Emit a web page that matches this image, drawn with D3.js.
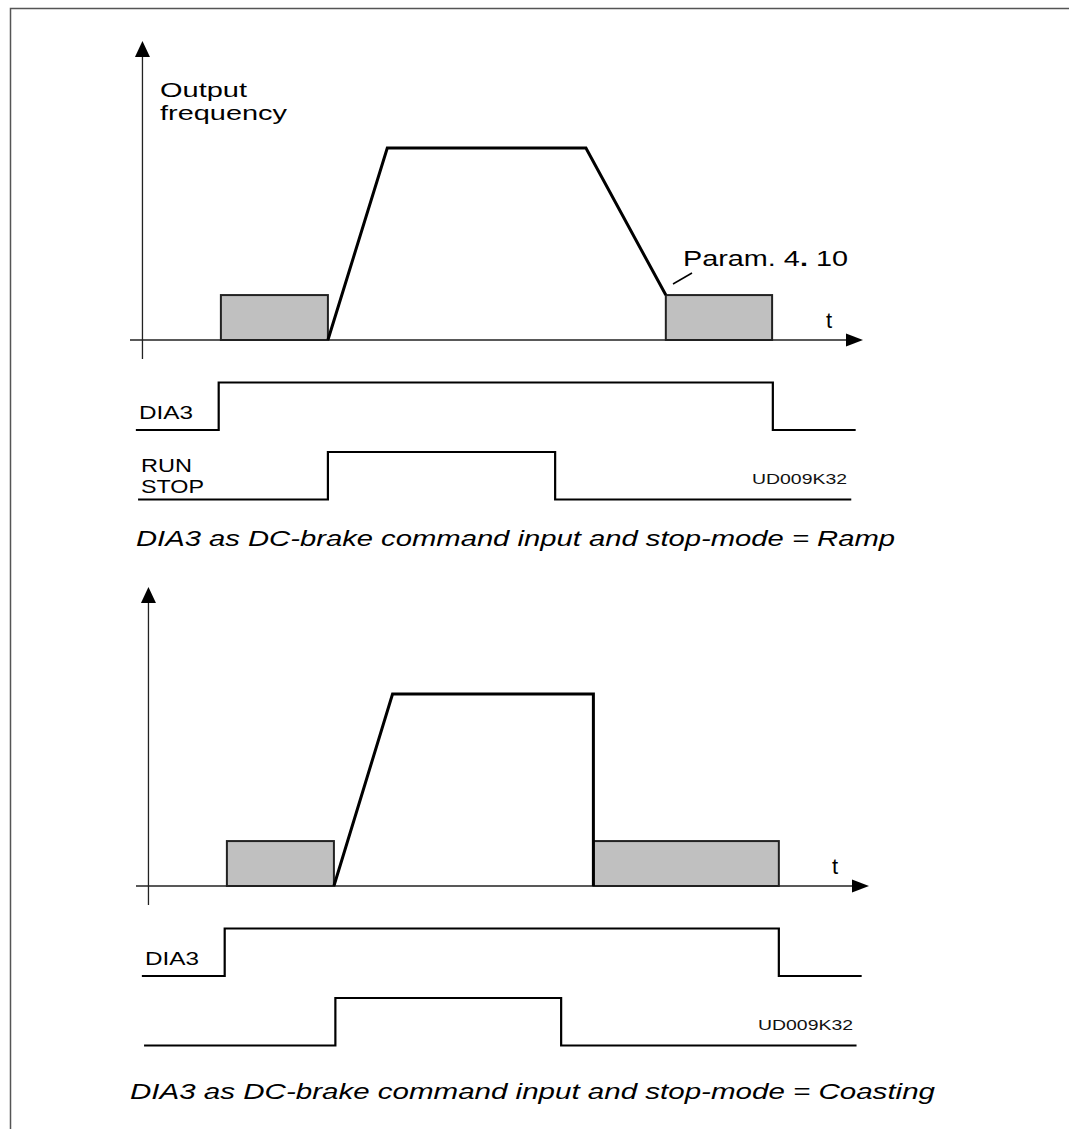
<!DOCTYPE html>
<html>
<head>
<meta charset="utf-8">
<script src="https://cdn.jsdelivr.net/npm/d3@7"></script>
<style>
  body { margin: 0; background: #fff; }
  svg { display: block; font-family: "Liberation Sans", Arial, sans-serif; }
</style>
</head>
<body>
<div id="chart"></div>
<script>
// time axis runs 0..100, frequency 0..100 (% of max), digital signals 0/1
const brakeLevel = 23.4;

// ramp stop
const rampFreq = [[27.0, 0], [35.1, 100], [62.2, 100], [73.1, brakeLevel]];
const rampBrake = [[12.4, 27.0], [73.1, 87.6]];
const rampDia3 = [[0.8, 0], [12.1, 1], [87.7, 0], [99.0, 0]];
const rampRun = [[1.1, 0], [27.0, 1], [58.0, 0], [98.4, 0]];

// coasting stop
const coastFreq = [[27.0, 0], [35.0, 100], [62.4, 100], [62.4, 0]];
const coastBrake = [[12.4, 27.0], [62.4, 87.7]];
const coastDia3 = [[0.8, 0], [12.1, 1], [87.7, 0], [99.0, 0]];
const coastRun = [[1.1, 0], [27.2, 1], [58.0, 0], [98.3, 0]];

const captions = [
  'DIA3 as DC-brake command input and stop-mode = Ramp',
  'DIA3 as DC-brake command input and stop-mode = Coasting'
];

const svg = d3.select('#chart').append('svg')
  .attr('width', 1069)
  .attr('height', 1129);

// outer frame
svg.append('rect')
  .attr('x', 10.5).attr('y', 8.5)
  .attr('width', 1080).attr('height', 1140)
  .attr('fill', 'none')
  .attr('stroke', '#555')
  .attr('stroke-width', 1.5);

function drawPanel(cfg) {
  const g = svg.append('g');
  const x = d3.scaleLinear().domain([0, 100]).range([cfg.x0, cfg.x0 + 733]);
  const y = d3.scaleLinear().domain([0, 100]).range([cfg.axisY, cfg.axisY - 192]);
  const yDia = d3.scaleLinear().domain([0, 1]).range([cfg.axisY + 90, cfg.axisY + 42.5]);
  const yRun = d3.scaleLinear().domain([0, 1]).range([cfg.axisY + 159.5, cfg.axisY + 112]);

  // brake boxes
  g.selectAll('.brake').data(cfg.brake).enter()
    .append('rect')
    .attr('class', 'brake')
    .attr('x', d => x(d[0]))
    .attr('y', y(brakeLevel))
    .attr('width', d => x(d[1]) - x(d[0]))
    .attr('height', y(0) - y(brakeLevel))
    .attr('fill', '#c0c0c0')
    .attr('stroke', '#222')
    .attr('stroke-width', 2);

  // axes
  const ax = x(1.7);
  g.append('line')
    .attr('x1', x(0)).attr('x2', x(100) - 14)
    .attr('y1', y(0)).attr('y2', y(0))
    .attr('stroke', '#222').attr('stroke-width', 1.3);
  g.append('line')
    .attr('x1', ax).attr('x2', ax)
    .attr('y1', y(-9.9)).attr('y2', y(155.7) + 12)
    .attr('stroke', '#222').attr('stroke-width', 1.3);
  g.append('path')
    .attr('d', `M${x(100)},${y(0)} L${x(100) - 17},${y(0) - 6.5} L${x(100) - 17},${y(0) + 6.5} Z`)
    .attr('fill', '#000');
  g.append('path')
    .attr('d', `M${ax},${y(155.7)} L${ax - 7.5},${y(155.7) + 16} L${ax + 7.5},${y(155.7) + 16} Z`)
    .attr('fill', '#000');

  // output frequency
  g.append('path')
    .datum(cfg.freq)
    .attr('d', d3.line().x(d => x(d[0])).y(d => y(d[1])))
    .attr('fill', 'none')
    .attr('stroke', '#000')
    .attr('stroke-width', 3)
    .attr('stroke-linejoin', 'miter');

  // digital signals
  const stepDia = d3.line().curve(d3.curveStepAfter).x(d => x(d[0])).y(d => yDia(d[1]));
  const stepRun = d3.line().curve(d3.curveStepAfter).x(d => x(d[0])).y(d => yRun(d[1]));
  g.append('path').datum(cfg.dia3).attr('d', stepDia)
    .attr('fill', 'none').attr('stroke', '#000').attr('stroke-width', 2.2);
  g.append('path').datum(cfg.run).attr('d', stepRun)
    .attr('fill', 'none').attr('stroke', '#000').attr('stroke-width', 2.2);

  // labels
  g.append('text')
    .attr('x', x(100) - 37).attr('y', y(0) - 12.5)
    .attr('font-size', 22).text('t');
  g.append('text')
    .attr('x', cfg.x0 + 9).attr('y', cfg.axisY + 78.5)
    .attr('font-size', 19).attr('textLength', 54).attr('lengthAdjust', 'spacingAndGlyphs')
    .text('DIA3');
  g.append('text')
    .attr('x', cfg.x0 + 622).attr('y', cfg.axisY + 144)
    .attr('font-size', 14.5).attr('textLength', 95).attr('lengthAdjust', 'spacingAndGlyphs')
    .attr('fill', '#111')
    .text('UD009K32');
  g.append('text')
    .attr('x', cfg.capX).attr('y', cfg.capY)
    .attr('font-size', 22).attr('font-style', 'italic')
    .attr('textLength', cfg.capW).attr('lengthAdjust', 'spacingAndGlyphs')
    .text(cfg.caption);
  return { g, x, y };
}

const topPanel = drawPanel({
  x0: 130, axisY: 340, freq: rampFreq, brake: rampBrake, dia3: rampDia3, run: rampRun,
  caption: captions[0], capX: 136, capY: 546, capW: 759
});
const bottomPanel = drawPanel({
  x0: 136, axisY: 886, freq: coastFreq, brake: coastBrake, dia3: coastDia3, run: coastRun,
  caption: captions[1], capX: 130, capY: 1099, capW: 805
});

// top-panel only texts
const tg = topPanel.g;
tg.append('text').attr('x', 160).attr('y', 96.5).attr('font-size', 20)
  .attr('textLength', 87).attr('lengthAdjust', 'spacingAndGlyphs').text('Output');
tg.append('text').attr('x', 160).attr('y', 120).attr('font-size', 20)
  .attr('textLength', 127).attr('lengthAdjust', 'spacingAndGlyphs').text('frequency');
const param = tg.append('text').attr('x', 683).attr('y', 266).attr('font-size', 22)
  .attr('textLength', 165).attr('lengthAdjust', 'spacingAndGlyphs');
param.append('tspan').text('Param. 4');
param.append('tspan').attr('font-weight', 'bold').text('.');
param.append('tspan').text(' 10');
tg.append('line')
  .attr('x1', 673).attr('y1', 284).attr('x2', 692).attr('y2', 273)
  .attr('stroke', '#000').attr('stroke-width', 1.5);
tg.append('text').attr('x', 141).attr('y', 472).attr('font-size', 19)
  .attr('textLength', 51).attr('lengthAdjust', 'spacingAndGlyphs').text('RUN');
tg.append('text').attr('x', 141).attr('y', 493).attr('font-size', 19)
  .attr('textLength', 63).attr('lengthAdjust', 'spacingAndGlyphs').text('STOP');
</script>
</body>
</html>
